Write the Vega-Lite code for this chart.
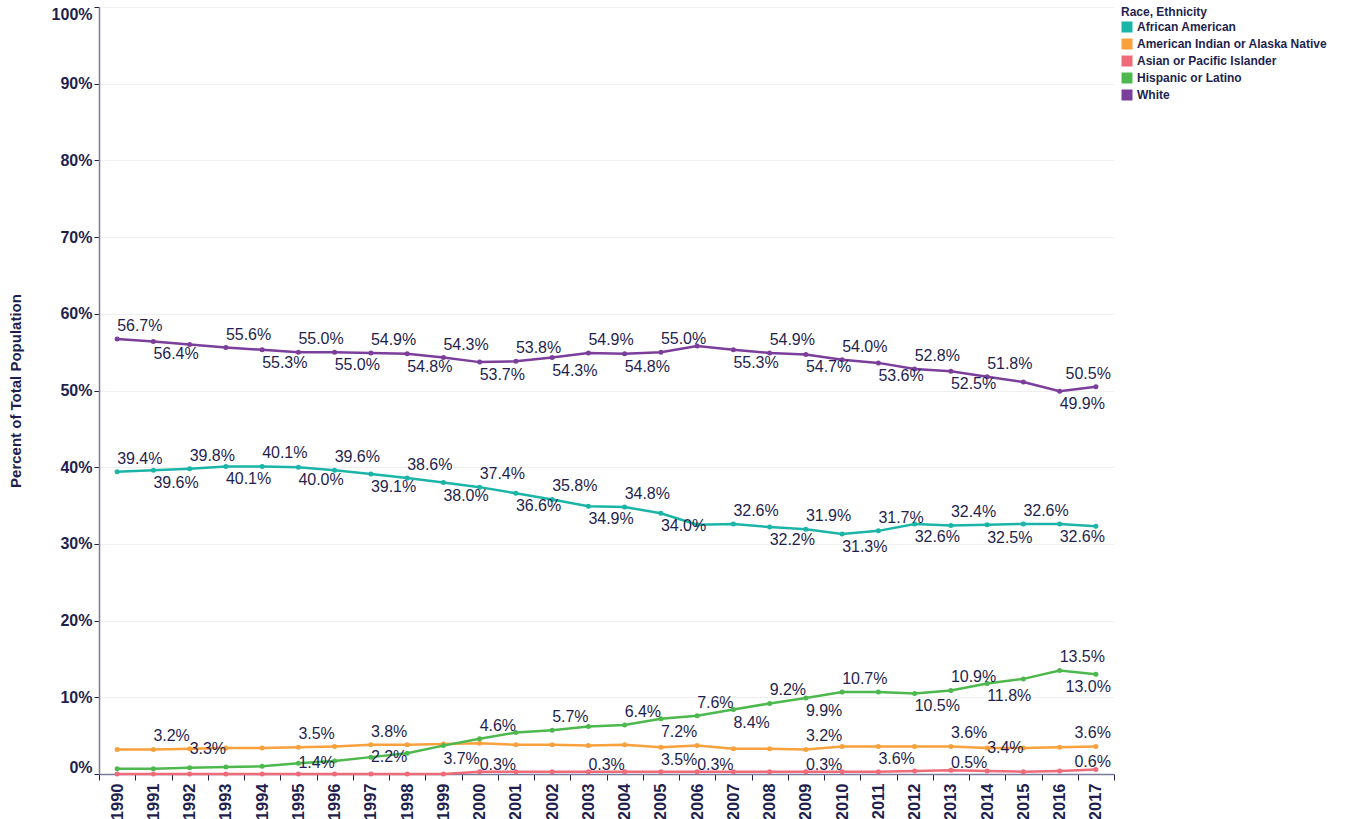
{
  "$schema": "https://vega.github.io/schema/vega-lite/v6.json",
  "width": 1015,
  "height": 767,
  "padding": {"left": 8, "top": 6, "right": 5, "bottom": 0},
  "autosize": {"type": "pad"},
  "config": {
    "font": "Liberation Sans",
    "view": {"stroke": null},
    "axis": {"domainColor": "#7a7a9c", "labelColor": "#1f1f4f", "titleColor": "#1f1f4f", "tickColor": "#1f1f4f"},
    "legend": {"titleColor": "#1f1f4f", "labelColor": "#1f1f4f"}
  },
  "params": [
    {"name": "labAbove", "value": ["Wh1990","Wh1993","Wh1995","Wh1997","Wh1999","Wh2001","Wh2003","Wh2005","Wh2008","Wh2010","Wh2012","Wh2014","Wh2017",
      "Af1990","Af1992","Af1994","Af1996","Af1998","Af2000","Af2002","Af2004","Af2007","Af2009","Af2011","Af2013","Af2015",
      "Hi2000","Hi2002","Hi2004","Hi2006","Hi2008","Hi2010","Hi2013","Hi2016",
      "Am1991","Am1995","Am1997","Am2009","Am2013","Am2017"]},
    {"name": "labBelow", "value": ["Wh1991","Wh1994","Wh1996","Wh1998","Wh2000","Wh2002","Wh2004","Wh2007","Wh2009","Wh2011","Wh2013","Wh2016",
      "Af1991","Af1993","Af1995","Af1997","Af1999","Af2001","Af2003","Af2005","Af2008","Af2010","Af2012","Af2014","Af2016",
      "Hi1999","Hi2005","Hi2007","Hi2009","Hi2012","Hi2014","Hi2017",
      "Am2005","Am2011"]},
    {"name": "labMid", "value": ["Am1992","Hi1995","Hi1997","Am2014"]},
    {"name": "labLow", "value": ["As2000","As2003","As2006","As2009","As2013","As2017"]}
  ],
  "data": {"values": [
    {"Race":"African American","Year":1990,"Share":0.394},{"Race":"African American","Year":1991,"Share":0.396},{"Race":"African American","Year":1992,"Share":0.398},{"Race":"African American","Year":1993,"Share":0.401},{"Race":"African American","Year":1994,"Share":0.401},{"Race":"African American","Year":1995,"Share":0.400},{"Race":"African American","Year":1996,"Share":0.396},{"Race":"African American","Year":1997,"Share":0.391},{"Race":"African American","Year":1998,"Share":0.386},{"Race":"African American","Year":1999,"Share":0.380},
    {"Race":"African American","Year":2000,"Share":0.374},{"Race":"African American","Year":2001,"Share":0.366},{"Race":"African American","Year":2002,"Share":0.358},{"Race":"African American","Year":2003,"Share":0.349},{"Race":"African American","Year":2004,"Share":0.348},{"Race":"African American","Year":2005,"Share":0.340},{"Race":"African American","Year":2006,"Share":0.325},{"Race":"African American","Year":2007,"Share":0.326},{"Race":"African American","Year":2008,"Share":0.322},{"Race":"African American","Year":2009,"Share":0.319},
    {"Race":"African American","Year":2010,"Share":0.313},{"Race":"African American","Year":2011,"Share":0.317},{"Race":"African American","Year":2012,"Share":0.326},{"Race":"African American","Year":2013,"Share":0.324},{"Race":"African American","Year":2014,"Share":0.325},{"Race":"African American","Year":2015,"Share":0.326},{"Race":"African American","Year":2016,"Share":0.326},{"Race":"African American","Year":2017,"Share":0.323},
    {"Race":"American Indian or Alaska Native","Year":1990,"Share":0.032},{"Race":"American Indian or Alaska Native","Year":1991,"Share":0.032},{"Race":"American Indian or Alaska Native","Year":1992,"Share":0.033},{"Race":"American Indian or Alaska Native","Year":1993,"Share":0.034},{"Race":"American Indian or Alaska Native","Year":1994,"Share":0.034},{"Race":"American Indian or Alaska Native","Year":1995,"Share":0.035},{"Race":"American Indian or Alaska Native","Year":1996,"Share":0.036},{"Race":"American Indian or Alaska Native","Year":1997,"Share":0.038},{"Race":"American Indian or Alaska Native","Year":1998,"Share":0.038},{"Race":"American Indian or Alaska Native","Year":1999,"Share":0.039},
    {"Race":"American Indian or Alaska Native","Year":2000,"Share":0.040},{"Race":"American Indian or Alaska Native","Year":2001,"Share":0.038},{"Race":"American Indian or Alaska Native","Year":2002,"Share":0.038},{"Race":"American Indian or Alaska Native","Year":2003,"Share":0.037},{"Race":"American Indian or Alaska Native","Year":2004,"Share":0.038},{"Race":"American Indian or Alaska Native","Year":2005,"Share":0.035},{"Race":"American Indian or Alaska Native","Year":2006,"Share":0.037},{"Race":"American Indian or Alaska Native","Year":2007,"Share":0.033},{"Race":"American Indian or Alaska Native","Year":2008,"Share":0.033},{"Race":"American Indian or Alaska Native","Year":2009,"Share":0.032},
    {"Race":"American Indian or Alaska Native","Year":2010,"Share":0.036},{"Race":"American Indian or Alaska Native","Year":2011,"Share":0.036},{"Race":"American Indian or Alaska Native","Year":2012,"Share":0.036},{"Race":"American Indian or Alaska Native","Year":2013,"Share":0.036},{"Race":"American Indian or Alaska Native","Year":2014,"Share":0.034},{"Race":"American Indian or Alaska Native","Year":2015,"Share":0.034},{"Race":"American Indian or Alaska Native","Year":2016,"Share":0.035},{"Race":"American Indian or Alaska Native","Year":2017,"Share":0.036},
    {"Race":"Asian or Pacific Islander","Year":1990,"Share":0.0},{"Race":"Asian or Pacific Islander","Year":1991,"Share":0.0},{"Race":"Asian or Pacific Islander","Year":1992,"Share":0.0},{"Race":"Asian or Pacific Islander","Year":1993,"Share":0.0},{"Race":"Asian or Pacific Islander","Year":1994,"Share":0.0},{"Race":"Asian or Pacific Islander","Year":1995,"Share":0.0},{"Race":"Asian or Pacific Islander","Year":1996,"Share":0.0},{"Race":"Asian or Pacific Islander","Year":1997,"Share":0.0},{"Race":"Asian or Pacific Islander","Year":1998,"Share":0.0},{"Race":"Asian or Pacific Islander","Year":1999,"Share":0.0},
    {"Race":"Asian or Pacific Islander","Year":2000,"Share":0.003},{"Race":"Asian or Pacific Islander","Year":2001,"Share":0.003},{"Race":"Asian or Pacific Islander","Year":2002,"Share":0.003},{"Race":"Asian or Pacific Islander","Year":2003,"Share":0.003},{"Race":"Asian or Pacific Islander","Year":2004,"Share":0.003},{"Race":"Asian or Pacific Islander","Year":2005,"Share":0.003},{"Race":"Asian or Pacific Islander","Year":2006,"Share":0.003},{"Race":"Asian or Pacific Islander","Year":2007,"Share":0.003},{"Race":"Asian or Pacific Islander","Year":2008,"Share":0.003},{"Race":"Asian or Pacific Islander","Year":2009,"Share":0.003},
    {"Race":"Asian or Pacific Islander","Year":2010,"Share":0.003},{"Race":"Asian or Pacific Islander","Year":2011,"Share":0.003},{"Race":"Asian or Pacific Islander","Year":2012,"Share":0.004},{"Race":"Asian or Pacific Islander","Year":2013,"Share":0.005},{"Race":"Asian or Pacific Islander","Year":2014,"Share":0.004},{"Race":"Asian or Pacific Islander","Year":2015,"Share":0.003},{"Race":"Asian or Pacific Islander","Year":2016,"Share":0.004},{"Race":"Asian or Pacific Islander","Year":2017,"Share":0.006},
    {"Race":"Hispanic or Latino","Year":1990,"Share":0.007},{"Race":"Hispanic or Latino","Year":1991,"Share":0.007},{"Race":"Hispanic or Latino","Year":1992,"Share":0.008},{"Race":"Hispanic or Latino","Year":1993,"Share":0.009},{"Race":"Hispanic or Latino","Year":1994,"Share":0.010},{"Race":"Hispanic or Latino","Year":1995,"Share":0.014},{"Race":"Hispanic or Latino","Year":1996,"Share":0.017},{"Race":"Hispanic or Latino","Year":1997,"Share":0.022},{"Race":"Hispanic or Latino","Year":1998,"Share":0.027},{"Race":"Hispanic or Latino","Year":1999,"Share":0.037},
    {"Race":"Hispanic or Latino","Year":2000,"Share":0.046},{"Race":"Hispanic or Latino","Year":2001,"Share":0.054},{"Race":"Hispanic or Latino","Year":2002,"Share":0.057},{"Race":"Hispanic or Latino","Year":2003,"Share":0.062},{"Race":"Hispanic or Latino","Year":2004,"Share":0.064},{"Race":"Hispanic or Latino","Year":2005,"Share":0.072},{"Race":"Hispanic or Latino","Year":2006,"Share":0.076},{"Race":"Hispanic or Latino","Year":2007,"Share":0.084},{"Race":"Hispanic or Latino","Year":2008,"Share":0.092},{"Race":"Hispanic or Latino","Year":2009,"Share":0.099},
    {"Race":"Hispanic or Latino","Year":2010,"Share":0.107},{"Race":"Hispanic or Latino","Year":2011,"Share":0.107},{"Race":"Hispanic or Latino","Year":2012,"Share":0.105},{"Race":"Hispanic or Latino","Year":2013,"Share":0.109},{"Race":"Hispanic or Latino","Year":2014,"Share":0.118},{"Race":"Hispanic or Latino","Year":2015,"Share":0.124},{"Race":"Hispanic or Latino","Year":2016,"Share":0.135},{"Race":"Hispanic or Latino","Year":2017,"Share":0.130},
    {"Race":"White","Year":1990,"Share":0.567},{"Race":"White","Year":1991,"Share":0.564},{"Race":"White","Year":1992,"Share":0.560},{"Race":"White","Year":1993,"Share":0.556},{"Race":"White","Year":1994,"Share":0.553},{"Race":"White","Year":1995,"Share":0.550},{"Race":"White","Year":1996,"Share":0.550},{"Race":"White","Year":1997,"Share":0.549},{"Race":"White","Year":1998,"Share":0.548},{"Race":"White","Year":1999,"Share":0.543},
    {"Race":"White","Year":2000,"Share":0.537},{"Race":"White","Year":2001,"Share":0.538},{"Race":"White","Year":2002,"Share":0.543},{"Race":"White","Year":2003,"Share":0.549},{"Race":"White","Year":2004,"Share":0.548},{"Race":"White","Year":2005,"Share":0.550},{"Race":"White","Year":2006,"Share":0.558},{"Race":"White","Year":2007,"Share":0.553},{"Race":"White","Year":2008,"Share":0.549},{"Race":"White","Year":2009,"Share":0.547},
    {"Race":"White","Year":2010,"Share":0.540},{"Race":"White","Year":2011,"Share":0.536},{"Race":"White","Year":2012,"Share":0.528},{"Race":"White","Year":2013,"Share":0.525},{"Race":"White","Year":2014,"Share":0.518},{"Race":"White","Year":2015,"Share":0.511},{"Race":"White","Year":2016,"Share":0.499},{"Race":"White","Year":2017,"Share":0.505}
  ]},
  "encoding": {
    "x": {
      "field": "Year", "type": "ordinal", "bandPosition": 0.5,
      "scale": {"type": "band", "paddingInner": 0, "paddingOuter": 0},
      "axis": {"title": null, "labelAngle": -90, "labelFontSize": 16.5, "labelFontWeight": "bold", "tickBand": "extent", "tickSize": 6, "labelPadding": 3, "domainWidth": 1.5}
    },
    "y": {
      "field": "Share", "type": "quantitative",
      "scale": {"domain": [0, 1], "nice": false, "zero": true},
      "axis": {"title": "Percent of Total Population", "values": [0, 0.1, 0.2, 0.3, 0.4, 0.5, 0.6, 0.7, 0.8, 0.9, 1.0], "format": ".0%", "labelFontSize": 16, "labelFontWeight": "bold", "labelFlush": true, "labelFlushOffset": 1, "titleFontSize": 15, "titleFontWeight": "bold", "titlePadding": 28, "tickSize": 5, "labelPadding": 2, "gridColor": "#efefef", "domainWidth": 1.5}
    },
    "color": {
      "field": "Race", "type": "nominal",
      "scale": {"domain": ["African American", "American Indian or Alaska Native", "Asian or Pacific Islander", "Hispanic or Latino", "White"], "range": ["#1bb5a7", "#f8a13d", "#f06b7a", "#4cb84d", "#7b3e9b"]},
      "legend": {"title": "Race, Ethnicity", "orient": "right", "offset": 7, "titleFontSize": 12, "titleFontWeight": "bold", "labelFontSize": 12, "labelFontWeight": "bold", "labelLimit": 0, "symbolType": "square", "symbolSize": 121, "symbolStrokeWidth": 0, "symbolOpacity": 1, "rowPadding": 5, "titlePadding": 2, "labelOffset": 4}
    }
  },
  "layer": [
    {"mark": {"type": "line", "strokeWidth": 2.5}},
    {"mark": {"type": "point", "filled": true, "size": 25, "opacity": 1}},
    {
      "transform": [{"filter": "indexof(labAbove, substring(datum.Race, 0, 2) + datum.Year) >= 0"}],
      "mark": {"type": "text", "dy": -13, "fontSize": 16, "align": {"expr": "datum.Year == 2017 ? 'right' : 'left'"}, "dx": {"expr": "datum.Year == 2017 ? 15 : 0"}},
      "encoding": {"text": {"field": "Share", "type": "quantitative", "format": ".1%"}, "color": {"value": "#1f1f4f"}}
    },
    {
      "transform": [{"filter": "indexof(labBelow, substring(datum.Race, 0, 2) + datum.Year) >= 0"}],
      "mark": {"type": "text", "dy": 13, "fontSize": 16, "align": {"expr": "datum.Year == 2017 ? 'right' : 'left'"}, "dx": {"expr": "datum.Year == 2017 ? 15 : 0"}},
      "encoding": {"text": {"field": "Share", "type": "quantitative", "format": ".1%"}, "color": {"value": "#1f1f4f"}}
    },
    {
      "transform": [{"filter": "indexof(labMid, substring(datum.Race, 0, 2) + datum.Year) >= 0"}],
      "mark": {"type": "text", "dy": 0, "fontSize": 16, "align": "left"},
      "encoding": {"text": {"field": "Share", "type": "quantitative", "format": ".1%"}, "color": {"value": "#1f1f4f"}}
    },
    {
      "transform": [{"filter": "indexof(labLow, substring(datum.Race, 0, 2) + datum.Year) >= 0"}],
      "mark": {"type": "text", "dy": -7, "fontSize": 16, "align": {"expr": "datum.Year == 2017 ? 'right' : 'left'"}, "dx": {"expr": "datum.Year == 2017 ? 15 : 0"}},
      "encoding": {"text": {"field": "Share", "type": "quantitative", "format": ".1%"}, "color": {"value": "#1f1f4f"}}
    }
  ]
}
